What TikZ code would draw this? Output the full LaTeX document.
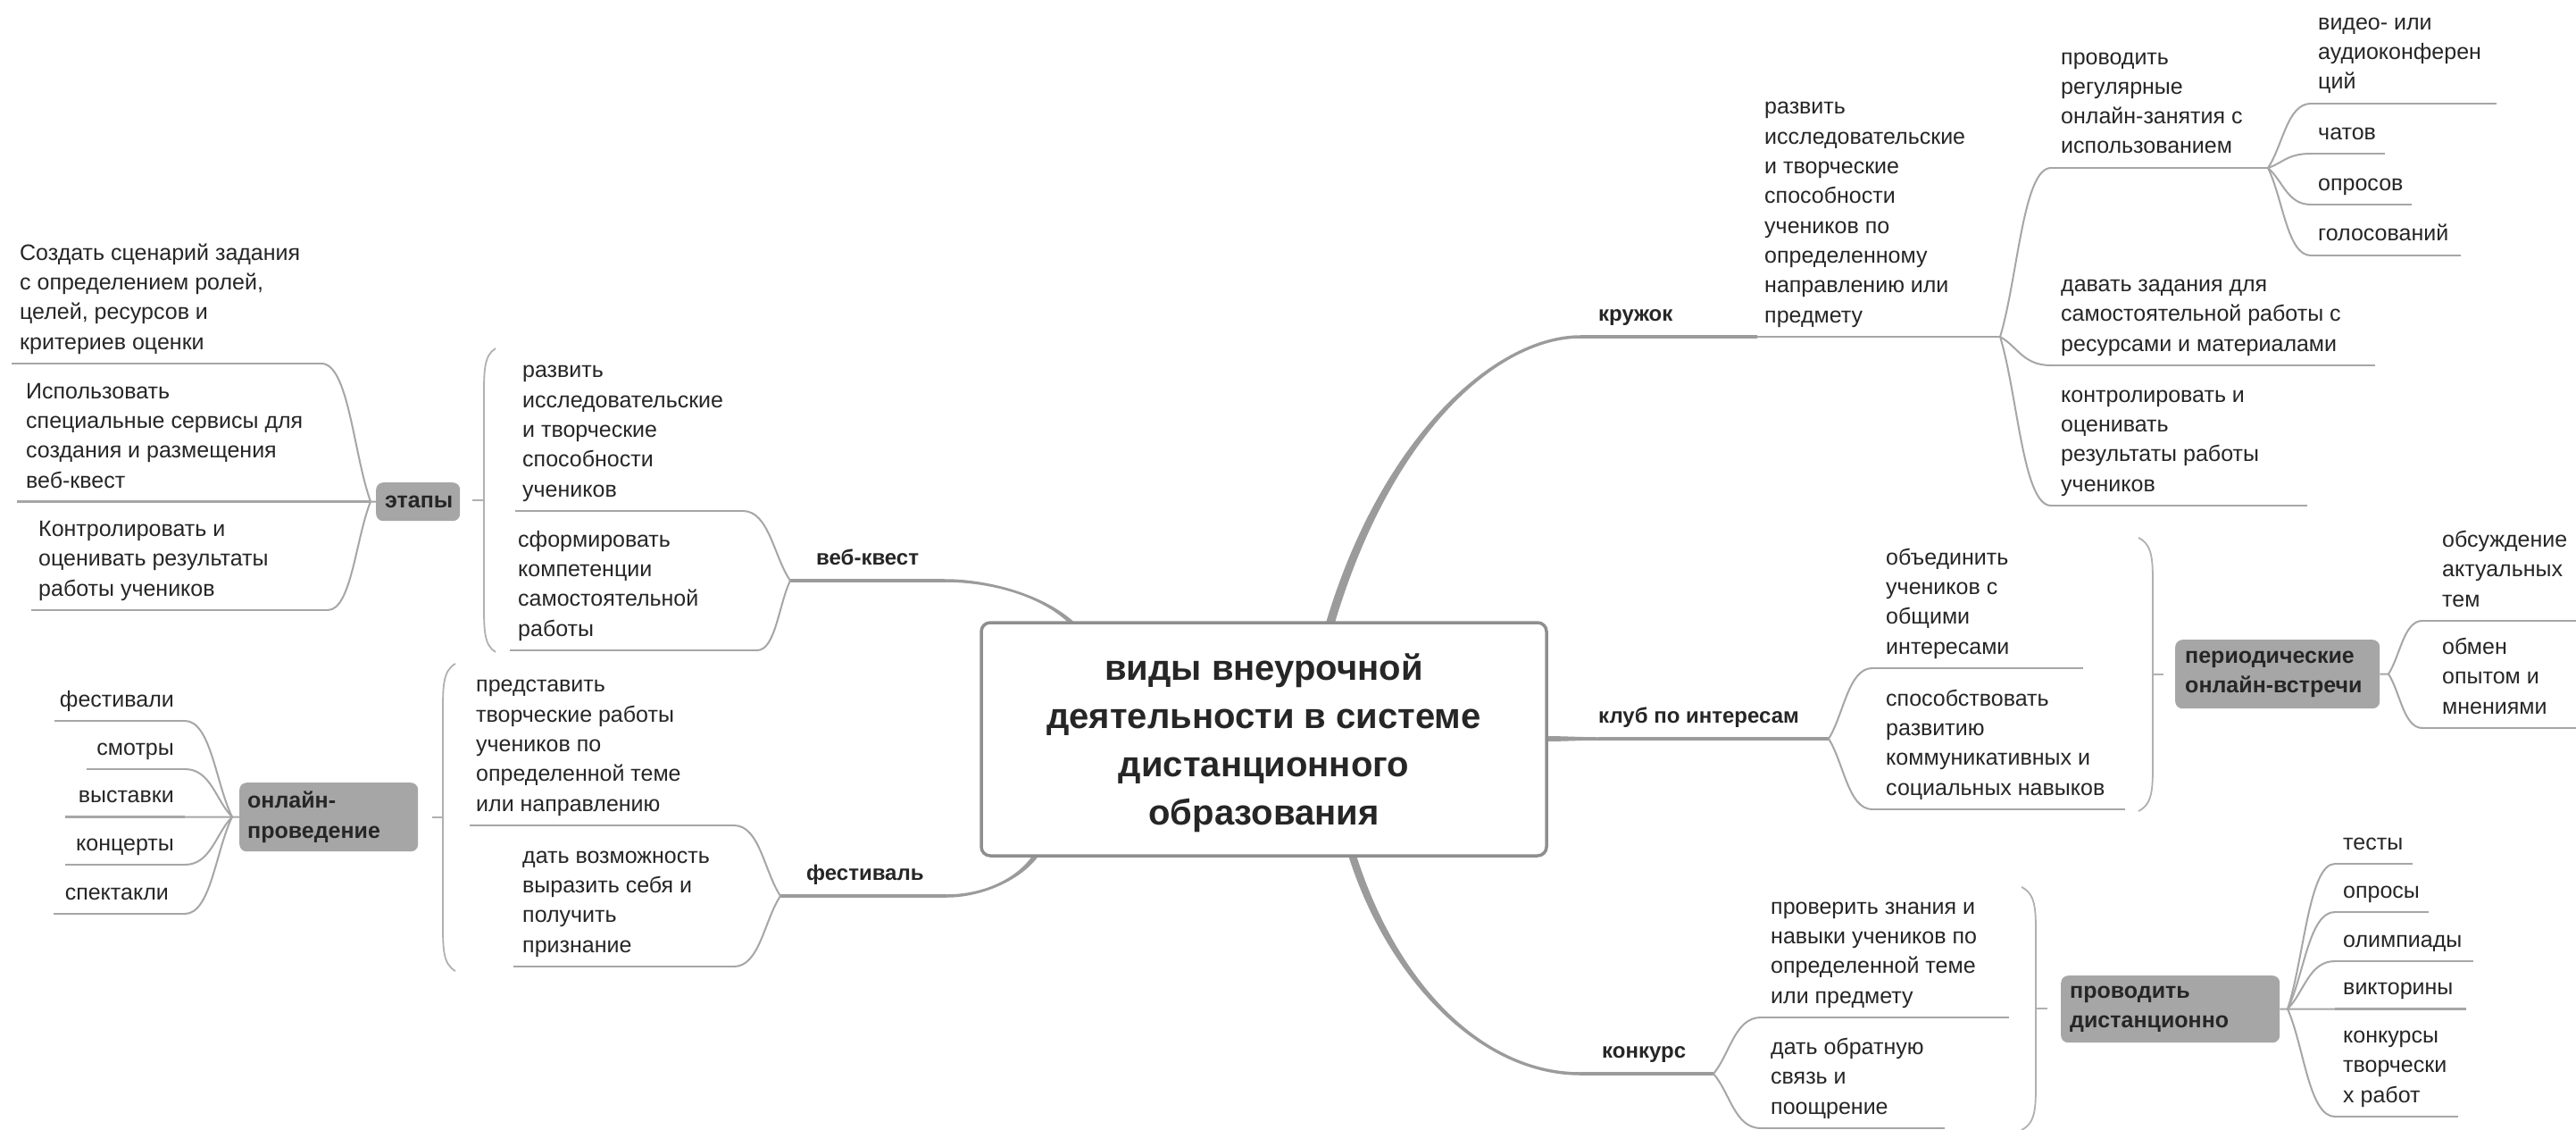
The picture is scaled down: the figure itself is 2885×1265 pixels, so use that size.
\documentclass[tikz,border=0pt]{standalone}
\usepackage{fontspec}
\setmainfont{Liberation Sans}
\usetikzlibrary{calc}

\definecolor{ink}{HTML}{262626}
\definecolor{trunkc}{HTML}{9B9B9B}
\definecolor{twigc}{HTML}{A6A6A6}
\definecolor{bracec}{HTML}{B0B0B0}
\definecolor{framec}{HTML}{8E8E8E}
\definecolor{sumfill}{HTML}{A6A6A6}

% a topic is placed by the baseline of its last line
\tikzset{
  topic/.style={anchor=base west, inner sep=0pt, align=left, text=ink,
    font=\fontsize{25}{33.33}\selectfont},
  topicR/.style={topic, anchor=base east, align=right},
  maintopic/.style={topic, font=\bfseries\fontsize{24}{33.33}\selectfont},
  roottopic/.style={draw=framec, line width=3.5pt, rounded corners=10pt, fill=white,
    minimum width=633pt, minimum height=261pt, align=center, text=ink,
    font=\bfseries\fontsize{40}{54}\selectfont},
  sumbox/.style={anchor=north west, fill=sumfill, rounded corners=8pt, align=left,
    text=ink, inner ysep=0pt, font=\bfseries\fontsize{25}{33.33}\selectfont},
  ulmain/.style={draw=trunkc, line width=3.5pt},
  ulsub/.style={draw=twigc, line width=2.6pt},
  twigline/.style={draw=twigc, line width=2pt},
  braceline/.style={draw=bracec, line width=1.8pt},
}

% tapered main branch: start, control 1, control 2, end, half-width at start, half-width at end
\newcommand\trunk[6]{%
  \fill[trunkc] ($(#1)+(#5)$) .. controls ($(#2)+(#5)$) and ($(#3)+(#6)$) .. ($(#4)+(#6)$)
    -- ($(#4)-(#6)$) .. controls ($(#3)-(#6)$) and ($(#2)-(#5)$) .. ($(#1)-(#5)$) -- cycle;}
% thin connector from a branch point to the start of a child underline
\newcommand\twig[2]{%
  \draw[twigline] (#1) .. controls ($(#1)!0.35!(#2)$) and ($(#1|-#2)!0.45!(#2)$) .. (#2);}
% summary brace: ends x, bulge x, top y, bottom y, tick end (named coordinate)
\newcommand\sbrace[5]{%
  \draw[braceline] (#1,#3) .. controls (#2,{#3+8}) and (#2,{#3+25}) .. (#2,{#3+55})
    -- (#2,{#4-55}) .. controls (#2,{#4-25}) and (#2,{#4-8}) .. (#1,#4);
  \draw[braceline] (#2,{(#3+#4)/2}) -- (#5);}

\begin{document}
\begin{tikzpicture}[x=1pt,y=-1pt]
\fill[white] (0,0) rectangle (2885,1265);
\useasboundingbox (0,0) rectangle (2885,1265);

% ---------- attachment points ----------
\coordinate (root-kr) at (1490,697);
\coordinate (root-kl) at (1731,827);
\coordinate (root-kn) at (1515,959);
\coordinate (root-vq) at (1200,697);
\coordinate (root-fs) at (1159,959);

\coordinate (kr-a) at (1770,377);  \coordinate (kr-b) at (1968,377);
\coordinate (kl-a) at (1790,827);  \coordinate (kl-b) at (2048,827);
\coordinate (kn-a) at (1770,1202); \coordinate (kn-b) at (1919,1202);
\coordinate (vq-a) at (885,650);   \coordinate (vq-b) at (1058,650);
\coordinate (fs-a) at (874,1003);  \coordinate (fs-b) at (1060,1003);

% ---------- main branches ----------
\trunk{root-kr}{1555,480}{1680,377}{kr-a}{-5,0}{0,-1.75}
\trunk{root-kn}{1560,1100}{1660,1202}{kn-a}{-4.5,0}{0,1.75}
\trunk{root-vq}{1168,667}{1110,650}{vq-b}{3.5,0}{0,-1.75}
\trunk{root-fs}{1140,985}{1100,1003}{fs-b}{3.5,0}{0,1.75}
\trunk{root-kl}{1750,827}{1770,827}{kl-a}{0,-3}{0,-1.75}
\draw[ulmain] (kr-a) -- (kr-b);
\draw[ulmain] (kl-a) -- (kl-b);
\draw[ulmain] (kn-a) -- (kn-b);
\draw[ulmain] (vq-b) -- (vq-a);
\draw[ulmain] (fs-b) -- (fs-a);

% ---------- central topic ----------
\node[roottopic] (root) at (1415.5,827.5) {};
\node[align=center, text=ink, font=\bfseries\fontsize{40}{54}\selectfont] (rootlabel) at (1415.5,832)
  {виды внеурочной\\деятельности в системе\\дистанционного\\образования};

% ---------- first level ----------
\node[maintopic] (kr) at (1790,359) {кружок};
\node[maintopic] (kl) at (1790,809) {клуб по интересам};
\node[maintopic] (kn) at (1794,1184) {конкурс};
\node[maintopic] (vq) at (914,632) {веб-квест};
\node[maintopic] (fs) at (903,985) {фестиваль};

% ---------- кружок ----------
\node[topic] (kr1) at (1976,361) {развить\\исследовательские\\и творческие\\способности\\учеников по\\определенному\\направлению или\\предмету};
\coordinate (kr1-b) at (2240,377);
\draw[ulsub] (kr-b) -- (kr1-b);

\node[topic] (kr1a) at (2308,172) {проводить\\регулярные\\онлайн-занятия с\\использованием};
\coordinate (kr1a-a) at (2297,188); \coordinate (kr1a-b) at (2540,188);
\draw[ulsub] (kr1a-a) -- (kr1a-b);
\node[topic] (kr1b) at (2308,393) {давать задания для\\самостоятельной работы с\\ресурсами и материалами};
\coordinate (kr1b-a) at (2297,409); \coordinate (kr1b-b) at (2660,409);
\draw[ulsub] (kr1b-a) -- (kr1b-b);
\node[topic] (kr1c) at (2308,550) {контролировать и\\оценивать\\результаты работы\\учеников};
\coordinate (kr1c-a) at (2297,566); \coordinate (kr1c-b) at (2584,566);
\draw[ulsub] (kr1c-a) -- (kr1c-b);
\twig{kr1-b}{kr1a-a}
\twig{kr1-b}{kr1b-a}
\twig{kr1-b}{kr1c-a}

\node[topic] (kr1a1) at (2596,100) {видео- или\\аудиоконферен\\ций};
\coordinate (kr1a1-a) at (2588,116); \coordinate (kr1a1-b) at (2796,116);
\node[topic] (kr1a2) at (2596,157) {чатов};
\coordinate (kr1a2-a) at (2588,172); \coordinate (kr1a2-b) at (2671,172);
\node[topic] (kr1a3) at (2596,214) {опросов};
\coordinate (kr1a3-a) at (2588,229); \coordinate (kr1a3-b) at (2701,229);
\node[topic] (kr1a4) at (2596,270) {голосований};
\coordinate (kr1a4-a) at (2588,286); \coordinate (kr1a4-b) at (2756,286);
\foreach \k in {kr1a1,kr1a2,kr1a3,kr1a4}{
  \draw[ulsub] (\k-a) -- (\k-b);
  \twig{kr1a-b}{\k-a}
}

% ---------- клуб по интересам ----------
\node[topic] (kl1) at (2112,732) {объединить\\учеников с\\общими\\интересами};
\coordinate (kl1-a) at (2097,748); \coordinate (kl1-b) at (2333,748);
\node[topic] (kl2) at (2112,890) {способствовать\\развитию\\коммуникативных и\\социальных навыков};
\coordinate (kl2-a) at (2097,906); \coordinate (kl2-b) at (2380,906);
\draw[ulsub] (kl1-a) -- (kl1-b);
\draw[ulsub] (kl2-a) -- (kl2-b);
\twig{kl-b}{kl1-a}
\twig{kl-b}{kl2-a}

\coordinate (klS-t) at (2423,755);
\sbrace{2395}{2411}{602}{908}{klS-t}
\node[sumbox, minimum width=229pt, minimum height=77pt, text width=207pt, inner xsep=11pt]
  (klS) at (2436,716) {периодические\\онлайн-встречи};
\coordinate (klS-x) at (2675,754.5);
\draw[twigline] (klS.east) -- (klS-x);
\node[topic] (klS1) at (2735,679) {обсуждение\\актуальных\\тем};
\coordinate (klS1-a) at (2713,695); \coordinate (klS1-b) at (2885,695);
\node[topic] (klS2) at (2735,799) {обмен\\опытом и\\мнениями};
\coordinate (klS2-a) at (2713,815); \coordinate (klS2-b) at (2885,815);
\draw[ulsub] (klS1-a) -- (klS1-b);
\draw[ulsub] (klS2-a) -- (klS2-b);
\twig{klS-x}{klS1-a}
\twig{klS-x}{klS2-a}

% ---------- конкурс ----------
\node[topic] (kn1) at (1983,1123) {проверить знания и\\навыки учеников по\\определенной теме\\или предмету};
\coordinate (kn1-a) at (1972,1139); \coordinate (kn1-b) at (2250,1139);
\node[topic] (kn2) at (1983,1247) {дать обратную\\связь и\\поощрение};
\coordinate (kn2-a) at (1972,1263); \coordinate (kn2-b) at (2178,1263);
\draw[ulsub] (kn1-a) -- (kn1-b);
\draw[ulsub] (kn2-a) -- (kn2-b);
\twig{kn-b}{kn1-a}
\twig{kn-b}{kn2-a}

\coordinate (knS-t) at (2293,1129);
\sbrace{2264}{2280}{993}{1265}{knS-t}
\node[sumbox, minimum width=245pt, minimum height=75pt, text width=225pt, inner xsep=10pt]
  (knS) at (2308,1092) {проводить\\дистанционно};
\coordinate (knS-x) at (2562,1129.5);
\draw[twigline] (knS.east) -- (knS-x);
\node[topic] (knS1) at (2624,951) {тесты};
\coordinate (knS1-a) at (2615,967);  \coordinate (knS1-b) at (2702,967);
\node[topic] (knS2) at (2624,1005) {опросы};
\coordinate (knS2-a) at (2615,1021); \coordinate (knS2-b) at (2720,1021);
\node[topic] (knS3) at (2624,1060) {олимпиады};
\coordinate (knS3-a) at (2615,1076); \coordinate (knS3-b) at (2770,1076);
\node[topic] (knS4) at (2624,1113) {викторины};
\coordinate (knS4-a) at (2615,1129.5); \coordinate (knS4-b) at (2762,1129.5);
\node[topic] (knS5) at (2624,1234) {конкурсы\\творчески\\х работ};
\coordinate (knS5-a) at (2615,1250); \coordinate (knS5-b) at (2753,1250);
\foreach \k in {knS1,knS2,knS3,knS4,knS5}{
  \draw[ulsub] (\k-a) -- (\k-b);
  \twig{knS-x}{\k-a}
}

% ---------- веб-квест ----------
\node[topic] (vq1) at (585,556) {развить\\исследовательские\\и творческие\\способности\\учеников};
\coordinate (vq1-a) at (832,572); \coordinate (vq1-b) at (577,572);
\node[topic] (vq2) at (580,712) {сформировать\\компетенции\\самостоятельной\\работы};
\coordinate (vq2-a) at (848,728); \coordinate (vq2-b) at (571,728);
\draw[ulsub] (vq1-a) -- (vq1-b);
\draw[ulsub] (vq2-a) -- (vq2-b);
\twig{vq-a}{vq1-a}
\twig{vq-a}{vq2-a}

\coordinate (vqS-t) at (529,560);
\sbrace{555}{542}{390}{730}{vqS-t}
\node[sumbox, minimum width=94pt, minimum height=43pt, text width=74pt, inner xsep=10pt]
  (vqS) at (421,540) {этапы};
\coordinate (vqS-x) at (415,561.5);
\draw[twigline] (vqS.west) -- (vqS-x);
\node[topic] (vqS1) at (22,391) {Создать сценарий задания\\с определением ролей,\\целей, ресурсов и\\критериев оценки};
\coordinate (vqS1-a) at (360,407); \coordinate (vqS1-b) at (13,407);
\node[topic] (vqS2) at (29,546) {Использовать\\специальные сервисы для\\создания и размещения\\веб-квест};
\coordinate (vqS2-a) at (415,561.5); \coordinate (vqS2-b) at (19,561.5);
\node[topic] (vqS3) at (43,667) {Контролировать и\\оценивать результаты\\работы учеников};
\coordinate (vqS3-a) at (367,683); \coordinate (vqS3-b) at (35,683);
\foreach \k in {vqS1,vqS2,vqS3}{
  \draw[ulsub] (\k-a) -- (\k-b);
  \twig{vqS-x}{\k-a}
}

% ---------- фестиваль ----------
\node[topic] (fs1) at (533,908) {представить\\творческие работы\\учеников по\\определенной теме\\или направлению};
\coordinate (fs1-a) at (822,924); \coordinate (fs1-b) at (526,924);
\node[topic] (fs2) at (585,1066) {дать возможность\\выразить себя и\\получить\\признание};
\coordinate (fs2-a) at (822,1082); \coordinate (fs2-b) at (575,1082);
\draw[ulsub] (fs1-a) -- (fs1-b);
\draw[ulsub] (fs2-a) -- (fs2-b);
\twig{fs-a}{fs1-a}
\twig{fs-a}{fs2-a}

\coordinate (fsS-t) at (484,915);
\sbrace{510}{496}{743}{1087}{fsS-t}
\node[sumbox, minimum width=200pt, minimum height=77pt, text width=182pt, inner xsep=9pt]
  (fsS) at (268,876) {онлайн-\\проведение};
\coordinate (fsS-x) at (260,914.5);
\draw[twigline] (fsS.west) -- (fsS-x);
\node[topicR] (fsS1) at (195,791) {фестивали};
\coordinate (fsS1-a) at (207,807); \coordinate (fsS1-b) at (61,807);
\node[topicR] (fsS2) at (195,845) {смотры};
\coordinate (fsS2-a) at (207,861); \coordinate (fsS2-b) at (97,861);
\node[topicR] (fsS3) at (195,898) {выставки};
\coordinate (fsS3-a) at (207,914.5); \coordinate (fsS3-b) at (73,914.5);
\node[topicR] (fsS4) at (195,952) {концерты};
\coordinate (fsS4-a) at (207,968); \coordinate (fsS4-b) at (73,968);
\node[topicR] (fsS5) at (189,1007) {спектакли};
\coordinate (fsS5-a) at (207,1023); \coordinate (fsS5-b) at (60,1023);
\foreach \k in {fsS1,fsS2,fsS3,fsS4,fsS5}{
  \draw[ulsub] (\k-a) -- (\k-b);
  \twig{fsS-x}{\k-a}
}
\end{tikzpicture}
\end{document}
